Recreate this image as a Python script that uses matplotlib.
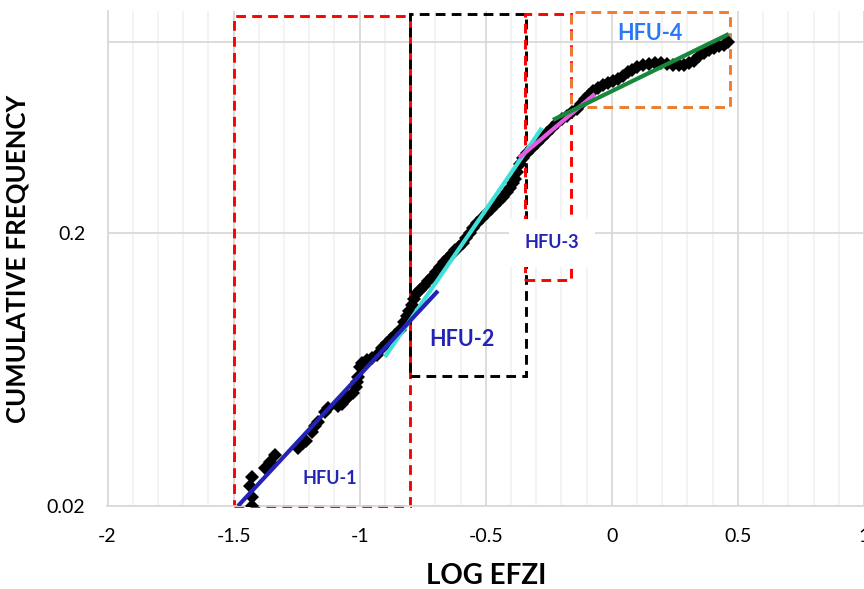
import matplotlib
matplotlib.use("Agg")
import matplotlib.pyplot as plt
from matplotlib.patches import Rectangle
from matplotlib.ticker import MultipleLocator, FixedLocator, FixedFormatter, NullLocator

plt.rcParams['font.family'] = ['Lato', 'DejaVu Sans']
plt.rcParams['lines.scale_dashes'] = False

# ---- data ----
log_efzi = [-1.427, -1.428, -1.433, -1.425, -1.376, -1.356, -1.336, -1.245, -1.225, -1.213,
            -1.189, -1.177, -1.165, -1.138, -1.126, -1.086, -1.070, -1.058, -1.046, -1.027,
            -1.015, -1.011, -1.007, -0.999, -0.991, -0.971, -0.951, -0.931, -0.912, -0.892,
            -0.876, -0.860, -0.840, -0.824, -0.812, -0.805, -0.793, -0.785, -0.773, -0.761,
            -0.745, -0.729, -0.713, -0.697, -0.682, -0.666, -0.650, -0.634, -0.622, -0.606,
            -0.590, -0.579, -0.563, -0.551, -0.535, -0.515, -0.495, -0.479, -0.464, -0.448,
            -0.432, -0.416, -0.404, -0.392, -0.384, -0.376, -0.364, -0.353, -0.337, -0.317,
            -0.297, -0.277, -0.257, -0.238, -0.218, -0.198, -0.178, -0.158, -0.138, -0.123,
            -0.107, -0.091, -0.075, -0.055, -0.035, -0.015, 0.004, 0.024, 0.044, 0.064,
            0.080, 0.100, 0.123, 0.147, 0.171, 0.195, 0.218, 0.242, 0.266, 0.286,
            0.306, 0.326, 0.345, 0.365, 0.385, 0.405, 0.425, 0.445, 0.460]
cum_freq = [0.0200, 0.0216, 0.0237, 0.0255, 0.0276, 0.0290, 0.0307, 0.0326, 0.0340, 0.0346,
            0.0373, 0.0393, 0.0406, 0.0442, 0.0457, 0.0465, 0.0473, 0.0489, 0.0501, 0.0519,
            0.0546, 0.0569, 0.0594, 0.0646, 0.0668, 0.0685, 0.0697, 0.0715, 0.0758, 0.0791,
            0.0818, 0.0846, 0.0883, 0.0944, 0.0993, 0.1036, 0.1090, 0.1146, 0.1206, 0.1237,
            0.1279, 0.1334, 0.1380, 0.1439, 0.1501, 0.1566, 0.1620, 0.1675, 0.1733, 0.1777,
            0.1838, 0.1918, 0.2000, 0.2086, 0.2176, 0.2270, 0.2368, 0.2449, 0.2533, 0.2620,
            0.2710, 0.2826, 0.2923, 0.3049, 0.3153, 0.3346, 0.3578, 0.3766, 0.3926, 0.4095,
            0.4272, 0.4457, 0.4649, 0.4849, 0.5058, 0.5232, 0.5366, 0.5550, 0.5692, 0.5937,
            0.6193, 0.6406, 0.6626, 0.6796, 0.6970, 0.7088, 0.7211, 0.7328, 0.7516, 0.7775,
            0.7908, 0.8110, 0.8249, 0.8318, 0.8389, 0.8389, 0.8318, 0.8249, 0.8249, 0.8249,
            0.8389, 0.8531, 0.8899, 0.9128, 0.9362, 0.9522, 0.9684, 0.9766, 1.0016]

# fitted HFU trend lines (start / end)
fit_names = ['HFU-2', 'HFU-1', 'HFU-3', 'HFU-4']
fit_x = [[-0.900, -0.277], [-1.4826, -0.6895], [-0.368, -0.067], [-0.2335, 0.464]]
fit_y = [[0.0703, 0.485], [0.020, 0.1227], [0.377, 0.646], [0.519, 1.071]]
fit_colors = ['#40E0D8', '#2323B8', '#E35CE3', '#17873C']

# dashed HFU boxes
box_x = [[-1.50, -0.80], [-0.80, -0.341], [-0.345, -0.162], [-0.161, 0.468]]
box_y = [[0.020, 1.248], [0.0599, 1.27], [0.1345, 1.27], [0.579, 1.285]]
box_colors = ['#FF0000', '#000000', '#FF0000', '#ED7D31']

# labels
lab_text = ['HFU-1', 'HFU-2', 'HFU-3', 'HFU-4']
lab_x = [-1.118, -0.594, -0.2375, 0.151]
lab_y = [0.0253, 0.0811, 0.1838, 1.071]
lab_size = [13, 15.5, 13, 15.5]
lab_color = ['#2424B4', '#2424B4', '#2424B4', '#2A78F5']

x_ticks = [-2, -1.5, -1, -0.5, 0, 0.5, 1]
x_tick_labels = ['-2', '-1.5', '-1', '-0.5', '0', '0.5', '1']
y_ticks = [0.02, 0.2, 1]
y_tick_labels = ['0.02', '0.2', '']

# ---- figure ----
fig = plt.figure(figsize=(8.64, 5.89), dpi=100)
ax = fig.add_axes([107.5 / 864, 83 / 589, (864 - 107.5) / 864, (506 - 11) / 589])

ax.set_xlim(-2, 1)
ax.set_yscale('log')
ax.set_ylim(0.02, 1.3)

ax.xaxis.set_major_locator(FixedLocator(x_ticks))
ax.xaxis.set_major_formatter(FixedFormatter(x_tick_labels))
ax.xaxis.set_minor_locator(MultipleLocator(0.1))
ax.yaxis.set_major_locator(FixedLocator(y_ticks))
ax.yaxis.set_major_formatter(FixedFormatter(y_tick_labels))
ax.yaxis.set_minor_locator(NullLocator())

ax.grid(True, which='major', color='#D9D9D9', lw=1.3, zorder=0)
ax.grid(True, which='minor', axis='x', color='#F0F0F0', lw=1.1, zorder=0)
ax.set_axisbelow(True)
for s in ['top', 'right']:
    ax.spines[s].set_visible(False)
for s in ['left', 'bottom']:
    ax.spines[s].set_color('#D9D9D9')
    ax.spines[s].set_linewidth(1.3)
ax.tick_params(axis='both', which='both', length=0, labelsize=14, colors='#000000')
ax.tick_params(axis='x', pad=16)
ax.tick_params(axis='y', pad=16)

# boxes
for (x0, x1), (y0, y1), c in zip(box_x, box_y, box_colors):
    r = Rectangle((x0, y0), x1 - x0, y1 - y0, fill=False, edgecolor=c, lw=2.1,
                  linestyle=(0, (7, 4.5)), zorder=2, clip_on=False)
    ax.add_patch(r)

# data points
ax.plot(log_efzi, cum_freq, linestyle='none', marker='D', ms=7.2, color='black',
        markeredgewidth=0, zorder=3)

# fits
for fx, fy, c in zip(fit_x, fit_y, fit_colors):
    ax.plot(fx, fy, color=c, lw=3.0, solid_capstyle='butt', zorder=4)

# labels
for t, x, y, s, c in zip(lab_text, lab_x, lab_y, lab_size, lab_color):
    kw = {}
    if t == 'HFU-3':
        kw['bbox'] = dict(boxstyle='square,pad=0.85', fc='white', ec='none')
    ax.text(x, y, t, color=c, fontsize=s, fontweight='bold', ha='center', va='center',
            zorder=5, **kw)

ax.set_xlabel('LOG EFZI', fontsize=20, fontweight='bold', labelpad=13)
ax.set_ylabel('CUMULATIVE FREQUENCY', fontsize=18.5, fontweight='bold', labelpad=12)

fig.savefig('out.png', dpi=100)
